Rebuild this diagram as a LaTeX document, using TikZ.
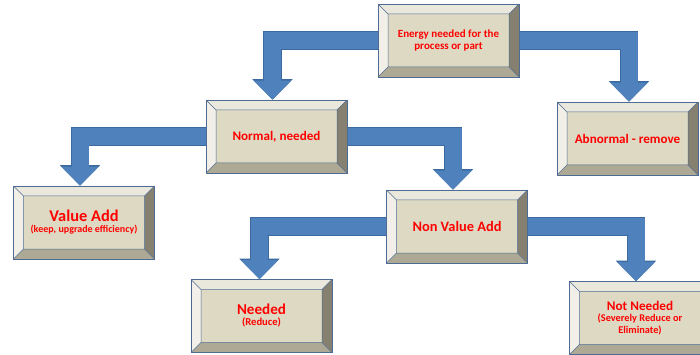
\documentclass[tikz,border=0pt]{standalone}
\usepackage{fontspec}
\setmainfont{Carlito}
\usetikzlibrary{arrows.meta,calc,backgrounds}
\definecolor{face}{HTML}{DDD9C3}
\definecolor{bevT}{HTML}{EAE7DC}
\definecolor{bevL}{HTML}{F1EFE7}
\definecolor{bevR}{HTML}{858070}
\definecolor{bevB}{HTML}{AEA994}
\definecolor{edge}{HTML}{4E6C93}
\definecolor{arrfill}{HTML}{4F81BD}
\definecolor{arredge}{HTML}{3C6AA0}
\definecolor{txt}{HTML}{FF0000}
\tikzset{
  bevbox/.style={rectangle, minimum width=141pt, minimum height=73pt, inner sep=0pt,
    fill=face, draw=edge, line width=0.7pt, text=txt, font=\bfseries, align=center,
    path picture={
      \coordinate (pA) at (path picture bounding box.north west);
      \coordinate (pC) at (path picture bounding box.south east);
      \coordinate (pB) at (pC |- pA);
      \coordinate (pD) at (pA |- pC);
      \coordinate (ia) at ($(pA)+(10pt,-10pt)$);
      \coordinate (ib) at ($(pB)+(-10pt,-10pt)$);
      \coordinate (ic) at ($(pC)+(-10pt,10pt)$);
      \coordinate (id) at ($(pD)+(10pt,10pt)$);
      \fill[bevT] (pA)--(pB)--(ib)--(ia)--cycle;
      \fill[bevR] (pB)--(pC)--(ic)--(ib)--cycle;
      \fill[bevB] (pC)--(pD)--(id)--(ic)--cycle;
      \fill[bevL] (pD)--(pA)--(ia)--(id)--cycle;
      \draw[edge, line width=0.5pt] (ia) rectangle (ic) (pA)--(ia) (pB)--(ib) (pC)--(ic) (pD)--(id);
    }},
  arrback/.style={draw=arredge, line width=18.6pt, -{Triangle[width=39pt,length=20.5pt]}},
  arrfront/.style={draw=arrfill, line width=17pt, -{Triangle[width=36.5pt,length=19pt]}},
  big/.style={font=\bfseries\fontsize{#1}{#1}\selectfont}
}
\begin{document}
\begin{tikzpicture}[x=1pt, y=-1pt]
\useasboundingbox (0,0) rectangle (700,355);
\clip (0,0) rectangle (700,355);
\node[bevbox] (E) at (448.5,40.5) {\fontsize{11}{14}\selectfont Energy needed for the\\\fontsize{11}{14}\selectfont process or part};
\node[bevbox] (N) at (276.5,136.5) {\fontsize{13.1}{15}\selectfont Normal, needed};
\node[bevbox] (A) at (627.5,138.5) {\fontsize{13.1}{15}\selectfont Abnormal - remove};
\node[bevbox] (V) at (84,222.5) {\fontsize{16.4}{16}\selectfont Value Add\\[-1pt]\fontsize{10}{12}\selectfont (keep, upgrade efficiency)};
\node[bevbox] (NV) at (457,226.5) {\fontsize{14.4}{16}\selectfont Non Value Add};
\node[bevbox] (Nd) at (261.5,316) {\fontsize{15.1}{16}\selectfont Needed\\[-1pt]\fontsize{10.6}{12}\selectfont (Reduce)};
\node[bevbox] (NN) at (640,318) {\fontsize{13.2}{14}\selectfont Not Needed\\[-1pt]\fontsize{10.3}{11}\selectfont (Severely Reduce or\\\fontsize{10.3}{11}\selectfont Eliminate)};
\begin{scope}[on background layer]
\foreach \s in {arrback, arrfront} {
  \draw[\s] (E.west) -| ($(N.north)+(-4pt,0)$);
  \draw[\s] (E.east) -| ($(A.north)+(1.5pt,0)$);
  \draw[\s] (N.west) -| ($(V.north)+(-4pt,0)$);
  \draw[\s] (N.east) -| ($(NV.north)+(-4pt,0)$);
  \draw[\s] (NV.west) -| ($(Nd.north)+(-2pt,0)$);
  \draw[\s] (NV.east) -| ($(NN.north)+(-4pt,0)$);
}
\end{scope}
\end{tikzpicture}
\end{document}
